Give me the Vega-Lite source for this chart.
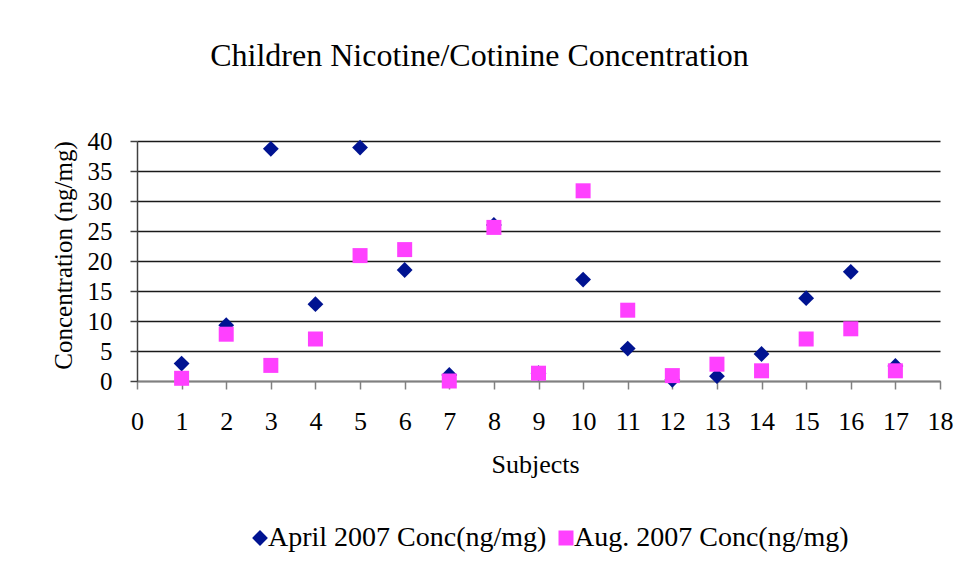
{
  "$schema": "https://vega.github.io/schema/vega-lite/v6.json",
  "autosize": {"type": "none"},
  "width": 803,
  "height": 240,
  "padding": {"left": 137, "top": 141, "right": 34, "bottom": 182},
  "background": "white",
  "title": {
    "text": "Children Nicotine/Cotinine Concentration",
    "font": "Liberation Serif",
    "fontSize": 32,
    "fontWeight": "normal",
    "color": "black",
    "anchor": "middle",
    "frame": "group",
    "dx": -59,
    "offset": 56
  },
  "data": {
    "values": [
      {"subject": 1, "series": "April 2007 Conc(ng/mg)", "value": 2.9},
      {"subject": 2, "series": "April 2007 Conc(ng/mg)", "value": 9.3},
      {"subject": 3, "series": "April 2007 Conc(ng/mg)", "value": 38.7},
      {"subject": 4, "series": "April 2007 Conc(ng/mg)", "value": 12.8},
      {"subject": 5, "series": "April 2007 Conc(ng/mg)", "value": 38.9},
      {"subject": 6, "series": "April 2007 Conc(ng/mg)", "value": 18.5},
      {"subject": 7, "series": "April 2007 Conc(ng/mg)", "value": 1.0},
      {"subject": 8, "series": "April 2007 Conc(ng/mg)", "value": 26.0},
      {"subject": 9, "series": "April 2007 Conc(ng/mg)", "value": 1.3},
      {"subject": 10, "series": "April 2007 Conc(ng/mg)", "value": 16.9},
      {"subject": 11, "series": "April 2007 Conc(ng/mg)", "value": 5.4},
      {"subject": 12, "series": "April 2007 Conc(ng/mg)", "value": 0.2},
      {"subject": 13, "series": "April 2007 Conc(ng/mg)", "value": 0.8},
      {"subject": 14, "series": "April 2007 Conc(ng/mg)", "value": 4.5},
      {"subject": 15, "series": "April 2007 Conc(ng/mg)", "value": 13.8},
      {"subject": 16, "series": "April 2007 Conc(ng/mg)", "value": 18.2},
      {"subject": 17, "series": "April 2007 Conc(ng/mg)", "value": 2.5},
      {"subject": 1, "series": "Aug. 2007 Conc(ng/mg)", "value": 0.45},
      {"subject": 2, "series": "Aug. 2007 Conc(ng/mg)", "value": 7.8},
      {"subject": 3, "series": "Aug. 2007 Conc(ng/mg)", "value": 2.6},
      {"subject": 4, "series": "Aug. 2007 Conc(ng/mg)", "value": 7.0},
      {"subject": 5, "series": "Aug. 2007 Conc(ng/mg)", "value": 20.9},
      {"subject": 6, "series": "Aug. 2007 Conc(ng/mg)", "value": 21.9},
      {"subject": 7, "series": "Aug. 2007 Conc(ng/mg)", "value": 0.0},
      {"subject": 8, "series": "Aug. 2007 Conc(ng/mg)", "value": 25.6},
      {"subject": 9, "series": "Aug. 2007 Conc(ng/mg)", "value": 1.3},
      {"subject": 10, "series": "Aug. 2007 Conc(ng/mg)", "value": 31.7},
      {"subject": 11, "series": "Aug. 2007 Conc(ng/mg)", "value": 11.8},
      {"subject": 12, "series": "Aug. 2007 Conc(ng/mg)", "value": 0.9},
      {"subject": 13, "series": "Aug. 2007 Conc(ng/mg)", "value": 2.8},
      {"subject": 14, "series": "Aug. 2007 Conc(ng/mg)", "value": 1.7},
      {"subject": 15, "series": "Aug. 2007 Conc(ng/mg)", "value": 7.0},
      {"subject": 16, "series": "Aug. 2007 Conc(ng/mg)", "value": 8.7},
      {"subject": 17, "series": "Aug. 2007 Conc(ng/mg)", "value": 1.7}
    ]
  },
  "mark": {"type": "point", "filled": true, "opacity": 1, "strokeWidth": 0},
  "encoding": {
    "x": {
      "field": "subject",
      "type": "quantitative",
      "title": "Subjects",
      "scale": {"domain": [0, 18], "nice": false, "zero": true},
      "axis": {
        "values": [0, 1, 2, 3, 4, 5, 6, 7, 8, 9, 10, 11, 12, 13, 14, 15, 16, 17, 18],
        "grid": false,
        "domainColor": "#808080",
        "domainWidth": 1.5,
        "tickColor": "#808080",
        "tickSize": 8,
        "tickWidth": 1.5,
        "labelFont": "Liberation Serif",
        "labelFontSize": 26,
        "labelColor": "black",
        "labelPadding": 19,
        "labelFlush": false,
        "labelOverlap": false,
        "titleFont": "Liberation Serif",
        "titleFontSize": 26,
        "titleFontWeight": "normal",
        "titleColor": "black",
        "titlePadding": 17,
        "titleX": 398
      }
    },
    "y": {
      "field": "value",
      "type": "quantitative",
      "title": "Concentration (ng/mg)",
      "scale": {"domain": [0, 40], "nice": false},
      "axis": {
        "values": [0, 5, 10, 15, 20, 25, 30, 35, 40],
        "grid": true,
        "gridColor": "#1a1a1a",
        "gridWidth": 1.5,
        "domainColor": "#404040",
        "domainWidth": 1.5,
        "tickColor": "#404040",
        "tickSize": 7,
        "tickWidth": 1.5,
        "labelFont": "Liberation Serif",
        "labelFontSize": 25,
        "labelColor": "black",
        "labelPadding": 18,
        "labelFlush": false,
        "labelOverlap": false,
        "titleFont": "Liberation Serif",
        "titleFontSize": 25,
        "titleFontWeight": "normal",
        "titleColor": "black",
        "titlePadding": 11,
        "titleY": 114
      }
    },
    "size": {
      "field": "series",
      "type": "nominal",
      "scale": {"domain": ["April 2007 Conc(ng/mg)", "Aug. 2007 Conc(ng/mg)"], "range": [250, 225]},
      "legend": null
    },
    "color": {
      "field": "series",
      "type": "nominal",
      "title": null,
      "scale": {"domain": ["April 2007 Conc(ng/mg)", "Aug. 2007 Conc(ng/mg)"], "range": ["#001391", "#ff40ff"]},
      "legend": {
        "orient": "none",
        "legendX": 109,
        "legendY": 383,
        "direction": "horizontal",
        "labelFont": "Liberation Serif",
        "labelFontSize": 28,
        "labelColor": "black",
        "symbolSize": 190,
        "symbolStrokeWidth": 0,
        "columnPadding": 5,
        "labelOffset": -6,
        "labelLimit": 400
      }
    },
    "shape": {
      "field": "series",
      "type": "nominal",
      "scale": {"domain": ["April 2007 Conc(ng/mg)", "Aug. 2007 Conc(ng/mg)"], "range": ["diamond", "square"]},
      "legend": null
    }
  },
  "config": {
    "view": {"stroke": null},
    "legend": {"symbolOpacity": 1}
  }
}
